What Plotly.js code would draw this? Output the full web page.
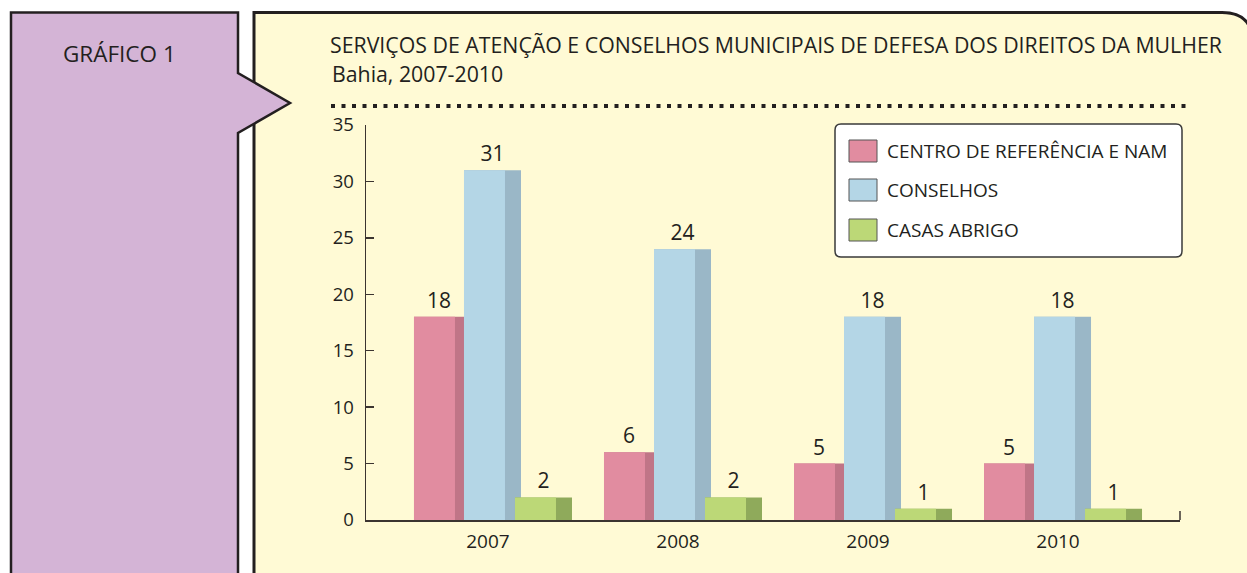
<!DOCTYPE html>
<html>
<head>
<meta charset="utf-8">
<script src="https://cdn.plot.ly/plotly-3.0.1.min.js"></script>
<style>html,body{margin:0;padding:0;background:#fff;}#chart{width:1247px;height:573px;}</style>
</head>
<body>
<div id="chart"></div>
<script>
// ---- data ----
const categories = ['2007', '2008', '2009', '2010'];
const seriesNames = ['CENTRO DE REFERÊNCIA E NAM', 'CONSELHOS', 'CASAS ABRIGO'];
const centroReferencia = [18, 6, 5, 5];
const conselhos = [31, 24, 18, 18];
const casasAbrigo = [2, 2, 1, 1];
const yTickValues = [0, 5, 10, 15, 20, 25, 30, 35];
const panelLabel = 'GRÁFICO 1';
const chartTitle = 'SERVIÇOS DE ATENÇÃO E CONSELHOS MUNICIPAIS DE DEFESA DOS DIREITOS DA MULHER';
const chartSubtitle = 'Bahia, 2007-2010';

// ---- styling ----
const W = 1247, H = 573;
const M = {l: 366, r: 67, t: 125, b: 53};
const PW = W - M.l - M.r, PH = H - M.t - M.b;
const X = px => (px - M.l) / PW;
const Y = py => (H - M.b - py) / PH;
const INK = '#231f20';
const FONT = 'Open Sans, Noto Sans, sans-serif';
const frontColors = ['#e18ca0', '#b4d6e6', '#bcd877'];
const sideColors = ['#c07587', '#9ab7c7', '#8faa5b'];
const seriesValues = [centroReferencia, conselhos, casasAbrigo];
// bar geometry in category units (offset from category centre, widths)
const fullOffsets = [-0.3895, -0.1263, 0.1421];
const fullWidths = [0.2632, 0.30, 0.30];
const frontWidth = 0.2158;

const traces = [];
seriesValues.forEach((vals, i) => {
  traces.push({
    type: 'bar', x: categories, y: vals, name: seriesNames[i] + ' (lado)',
    offset: fullOffsets[i], width: fullWidths[i],
    marker: {color: sideColors[i], line: {width: 0}},
    text: vals.map(String), textposition: 'outside', cliponaxis: false,
    textfont: {family: FONT, size: 21, color: INK},
    showlegend: false, hoverinfo: 'skip'
  });
  traces.push({
    type: 'bar', x: categories, y: vals, name: seriesNames[i],
    offset: fullOffsets[i], width: frontWidth,
    marker: {color: frontColors[i], line: {width: 0}},
    showlegend: false, hoverinfo: 'skip'
  });
});

const shapes = [
  // right yellow panel with rounded top-right corner
  {type: 'path', xref: 'paper', yref: 'paper', layer: 'below',
   path: `M${X(254)},${Y(12.5)} L${X(1222)},${Y(12.5)} Q${X(1253)},${Y(12.5)} ${X(1253)},${Y(44)} L${X(1253)},${Y(590)} L${X(254)},${Y(590)} Z`,
   fillcolor: '#fffad5', line: {color: INK, width: 3}},
  // left purple panel with arrow
  {type: 'path', xref: 'paper', yref: 'paper', layer: 'below',
   path: `M${X(11)},${Y(12.5)} L${X(238)},${Y(12.5)} L${X(238)},${Y(73)} L${X(290)},${Y(103)} L${X(238)},${Y(133)} L${X(238)},${Y(590)} L${X(11)},${Y(590)} Z`,
   fillcolor: '#d4b4d6', line: {color: INK, width: 2.5}},
  // dotted separator
  {type: 'line', xref: 'paper', yref: 'paper', layer: 'below',
   x0: X(331), x1: X(1189), y0: Y(106), y1: Y(106),
   line: {color: INK, width: 4, dash: '4px,6.5px'}},
  // end tick on x axis
  {type: 'line', xref: 'paper', yref: 'paper',
   x0: 1, x1: 1, y0: 0, y1: Y(511),
   line: {color: '#3b3430', width: 1.5}},
  // legend box
  {type: 'path', xref: 'paper', yref: 'paper',
   path: `M${X(841)},${Y(124)} L${X(1176)},${Y(124)} Q${X(1182)},${Y(124)} ${X(1182)},${Y(130)} L${X(1182)},${Y(251)} Q${X(1182)},${Y(257)} ${X(1176)},${Y(257)} L${X(841)},${Y(257)} Q${X(835)},${Y(257)} ${X(835)},${Y(251)} L${X(835)},${Y(130)} Q${X(835)},${Y(124)} ${X(841)},${Y(124)} Z`,
   fillcolor: '#ffffff', line: {color: '#3a3a3a', width: 1.5}}
];
const annotations = [
  {xref: 'paper', yref: 'paper', x: X(61), y: Y(54), xanchor: 'left', yanchor: 'middle',
   text: panelLabel, showarrow: false, font: {family: FONT, size: 22.5, color: INK}},
  {xref: 'paper', yref: 'paper', x: X(330), y: Y(73.5), xanchor: 'left', yanchor: 'middle',
   text: chartSubtitle, showarrow: false, font: {family: FONT, size: 21.3, color: INK}}
];
const legendRows = [151, 190, 230];
seriesNames.forEach((name, i) => {
  shapes.push({type: 'rect', xref: 'paper', yref: 'paper',
    x0: X(849), x1: X(877), y0: Y(legendRows[i] - 11), y1: Y(legendRows[i] + 11),
    fillcolor: frontColors[i], line: {color: '#555555', width: 1}});
  annotations.push({xref: 'paper', yref: 'paper', x: X(885), y: Y(legendRows[i]),
    xanchor: 'left', yanchor: 'middle', text: name, showarrow: false,
    font: {family: FONT, size: 19, color: INK}});
});

const layout = {
  width: W, height: H, margin: M,
  paper_bgcolor: '#ffffff', plot_bgcolor: 'rgba(0,0,0,0)',
  barmode: 'overlay', showlegend: false,
  title: {text: chartTitle, xref: 'container', yref: 'container',
          x: 330 / W, xanchor: 'left', y: 1 - 46 / H, yanchor: 'middle',
          font: {family: FONT, size: 21.3, color: INK}},
  xaxis: {type: 'category', range: [-0.642, 3.642], showline: true, linecolor: '#3b3430', linewidth: 1.5,
          ticks: '', ticklabelstandoff: 4, tickfont: {family: FONT, size: 19, color: INK},
          showgrid: false, zeroline: false, fixedrange: true},
  yaxis: {range: [0, 35], tickvals: yTickValues, ticktext: yTickValues.map(String),
          showline: true, linecolor: '#3b3430', linewidth: 1.5,
          ticks: 'inside', ticklen: 8, tickwidth: 1.5, tickcolor: '#3b3430',
          ticklabelstandoff: 7,
          tickfont: {family: FONT, size: 18.5, color: INK}, showgrid: false, zeroline: false,
          fixedrange: true},
  shapes: shapes, annotations: annotations
};
Plotly.newPlot('chart', traces, layout, {displayModeBar: false, staticPlot: true});
</script>
</body>
</html>
